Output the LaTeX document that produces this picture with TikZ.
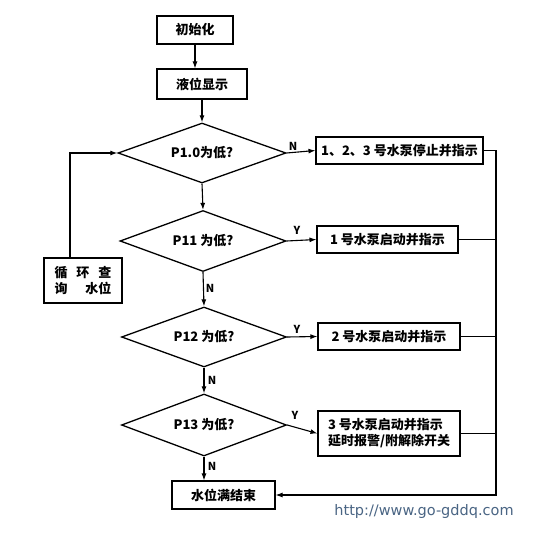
\documentclass[tikz,border=0pt]{standalone}
\usepackage{fontspec}
\setmainfont{Noto Sans CJK SC}
\newfontfamily\urlfont{DejaVu Sans}
\usetikzlibrary{shapes.geometric,arrows.meta}
\definecolor{urlc}{HTML}{4A6584}
\newcommand\fsz{\bfseries\fontsize{13}{16}\selectfont}
\begin{document}
\begin{tikzpicture}[x=1pt,y=-1pt,
  box/.style={draw,line width=1.1pt,rectangle,inner sep=0pt,font=\fsz},
  dia/.style={draw,line width=1.3pt,diamond,aspect=2.7,inner sep=0pt,font=\fsz},
  arr/.style={line width=1.1pt,-{Latex[length=7pt,width=5pt]}},
  ln/.style={line width=1.1pt},
  lab/.style={font=\bfseries\fontsize{11}{11}\selectfont,inner sep=0pt}]
\useasboundingbox[fill=white] (0,0) rectangle (553,534);
\node[box,minimum width=76pt,minimum height=28pt] (init) at (195,30) {初始化};
\node[box,minimum width=90pt,minimum height=30pt] (disp) at (202,84) {液位显示};
\node[dia,minimum width=168pt,minimum height=60pt] (d1) at (202,153) {P1.0为低?};
\node[box,minimum width=167pt,minimum height=27pt] (s0) at (399.5,150.5) {1、2、3 号水泵停止并指示};
\node[dia,minimum width=166pt,minimum height=61pt] (d2) at (203,241) {P11 为低?};
\node[box,minimum width=141pt,minimum height=27pt] (s1) at (387.5,239.5) {1 号水泵启动并指示};
\node[box,minimum width=78pt,minimum height=45pt,align=left] (loop) at (83,280.5) {循\hspace{9pt}环\hspace{9pt}查\\询\hspace{18pt}水位};
\node[dia,minimum width=165pt,minimum height=60pt] (d3) at (204,337) {P12 为低?};
\node[box,minimum width=142pt,minimum height=27pt] (s2) at (389,336.5) {2 号水泵启动并指示};
\node[dia,minimum width=165pt,minimum height=62pt] (d4) at (204,425) {P13 为低?};
\node[box,minimum width=142pt,minimum height=45pt,align=left] (s3) at (389,433.5) {3 号水泵启动并指示\\延时报警/附解除开关};
\node[box,minimum width=103pt,minimum height=28pt] (endb) at (223.5,495) {水位满结束};
\coordinate (R) at (496,0);
\coordinate (L) at (70,0);
% vertical flow
\draw[arr] (init.south) -- (init.south |- disp.north);
\draw[arr] (disp.south) -- (d1.north);
\draw[arr] (d1.south) -- (d2.north);
\draw[arr] (d2.south) -- (d3.north);
\draw[arr] (d3.south) -- (d4.north);
\draw[arr] (d4.south) -- (d4.south |- endb.north);
% branches
\draw[arr] (d1.east) -- (s0.west);
\draw[arr] (d2.east) -- (s1.west);
\draw[arr] (d3.east) -- (s2.west);
\draw[arr] (d4.east) -- (s3.west);
% right collector
\draw[arr] (s0.east) -| (R |- endb.east) -- (endb.east);
\draw[ln] (s1.east) -- (s1.east -| R);
\draw[ln] (s2.east) -- (s2.east -| R);
\draw[ln] (s3.east) -- (s3.east -| R);
% loop
\draw[arr] (L |- loop.north) |- (d1.west);
% labels
\node[lab] (n1) at (293,146) {N};
\node[lab] (y2) at (297,230) {Y};
\node[lab] (y3) at (297,329) {Y};
\node[lab] (y4) at (295,415) {Y};
\node[lab] (n2) at (210,288) {N};
\node[lab] (n3) at (212,380) {N};
\node[lab] (n4) at (212,466) {N};
\node[font=\urlfont\fontsize{14.5}{15}\selectfont,text=urlc,inner sep=0pt] (url) at (424,511) {http://www.go-gddq.com};
\end{tikzpicture}
\end{document}
